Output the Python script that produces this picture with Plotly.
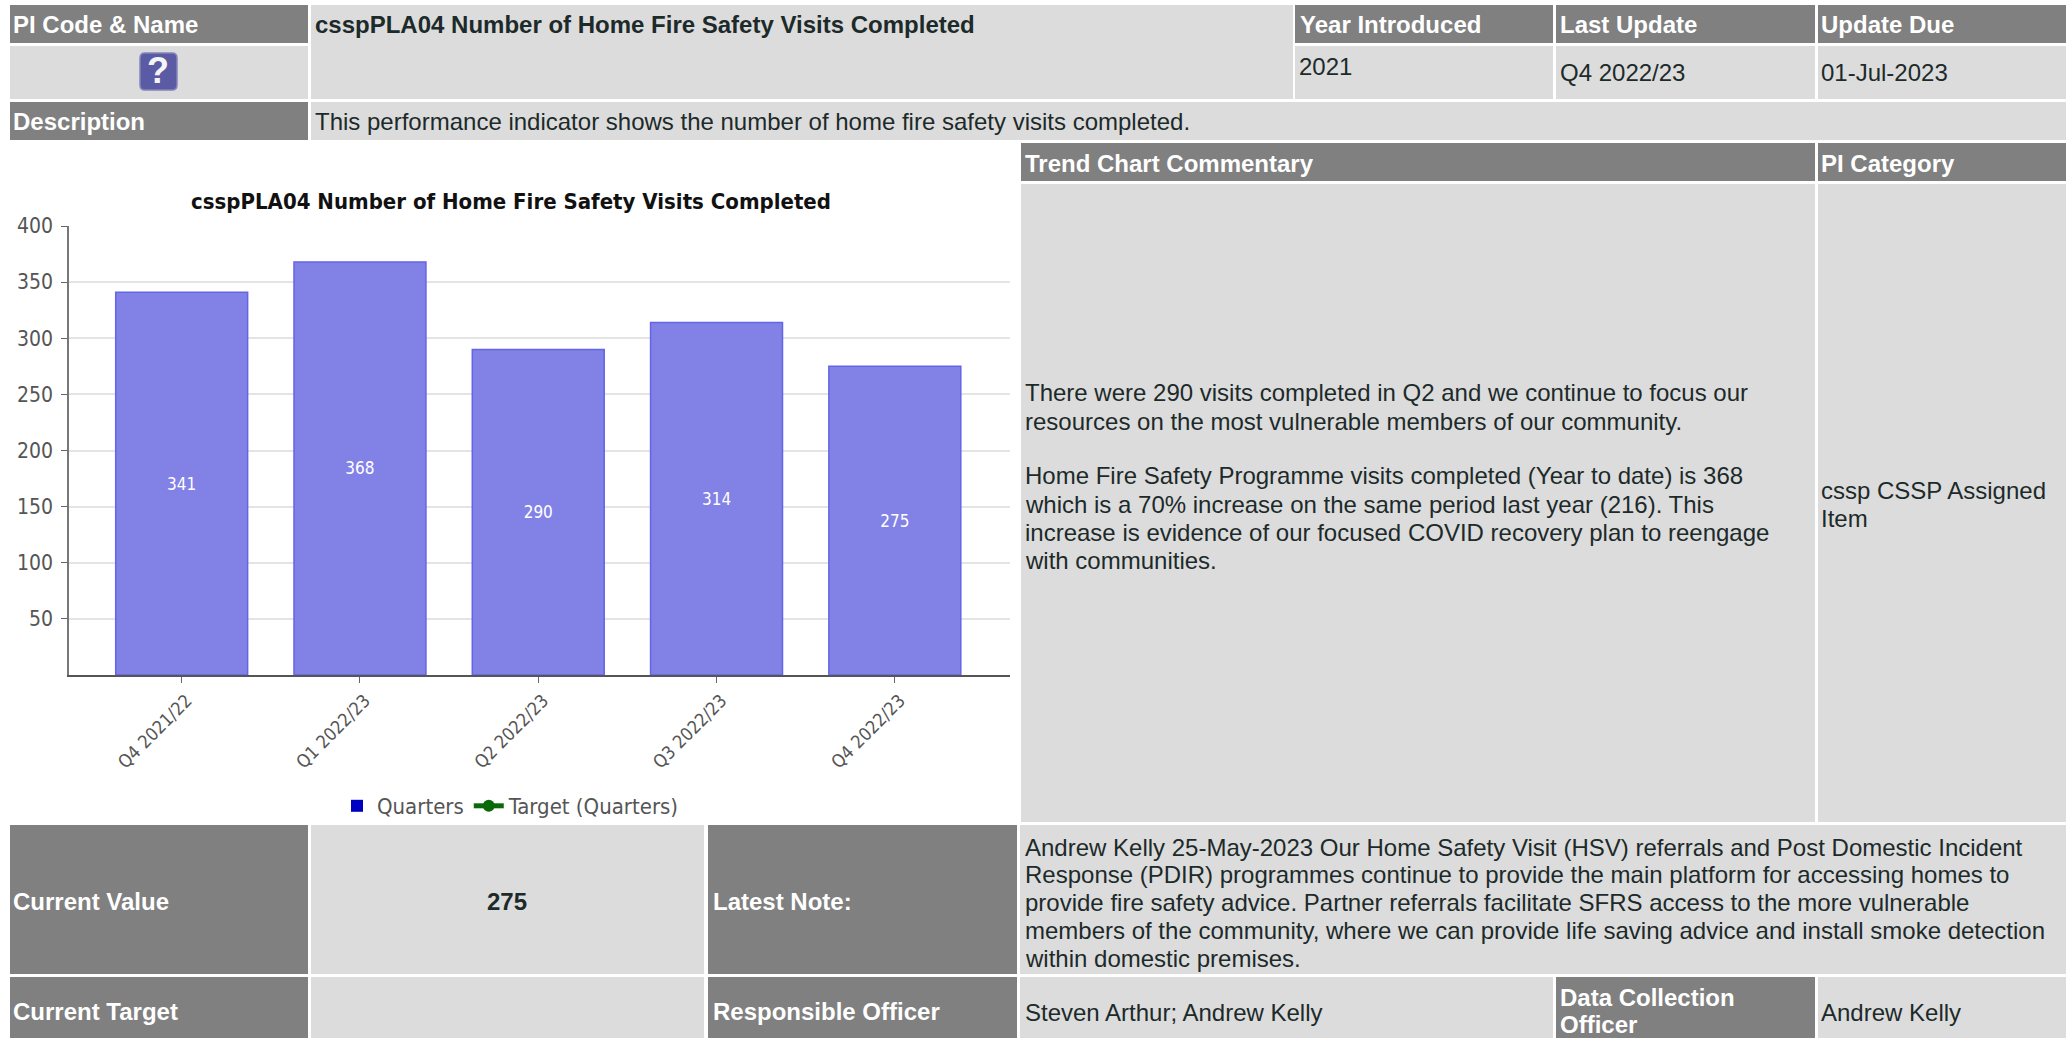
import plotly.graph_objects as go

W, H = 2071, 1038

# ---- chart data ----
periods = ["Q4 2021/22", "Q1 2022/23", "Q2 2022/23", "Q3 2022/23", "Q4 2022/23"]
quarters = [341, 368, 290, 314, 275]
y_ticks = [50, 100, 150, 200, 250, 300, 350, 400]
chart_title = "csspPLA04 Number of Home Fire Safety Visits Completed"

# ---- report texts ----
commentary_lines = [
    "There were 290 visits completed in Q2 and we continue to focus our",
    "resources on the most vulnerable members of our community.",
    "Home Fire Safety Programme visits completed (Year to date) is 368",
    "which is a 70% increase on the same period last year (216). This",
    "increase is evidence of our focused COVID recovery plan to reengage",
    "with communities.",
]
commentary_ys = [392, 421, 475, 504, 532, 560]
note_lines = [
    "Andrew Kelly 25-May-2023 Our Home Safety Visit (HSV) referrals and Post Domestic Incident",
    "Response (PDIR) programmes continue to provide the main platform for accessing homes to",
    "provide fire safety advice. Partner referrals facilitate SFRS access to the more vulnerable",
    "members of the community, where we can provide life saving advice and install smoke detection",
    "within domestic premises.",
]
note_ys = [847, 874, 902, 930, 958]

DARK, LIGHT = "#808080", "#dcdcdc"
# x0, x1, y0, y1, colour
cells = [
    (10, 308, 5, 43, DARK), (10, 308, 46, 99, LIGHT), (311, 1293, 5, 99, LIGHT),
    (1295, 1553, 5, 43, DARK), (1556, 1815, 5, 43, DARK), (1818, 2066, 5, 43, DARK),
    (1295, 1553, 46, 99, LIGHT), (1556, 1815, 46, 99, LIGHT), (1818, 2066, 46, 99, LIGHT),
    (10, 308, 102, 140, DARK), (311, 2066, 102, 140, LIGHT),
    (1021, 1815, 143, 181, DARK), (1818, 2066, 143, 181, DARK),
    (1021, 1815, 184, 822, LIGHT), (1818, 2066, 184, 822, LIGHT),
    (10, 308, 825, 974, DARK), (311, 704, 825, 974, LIGHT), (708, 1017, 825, 974, DARK), (1020, 2066, 825, 974, LIGHT),
    (10, 308, 977, 1038, DARK), (311, 704, 977, 1038, LIGHT), (708, 1017, 977, 1038, DARK),
    (1020, 1553, 977, 1038, LIGHT), (1556, 1815, 977, 1038, DARK), (1818, 2066, 977, 1038, LIGHT),
]
WHITE, INK = "#ffffff", "#1c2a2a"
# text, x, y, colour, bold
labels = [
    ("PI Code & Name", 12, 25, WHITE, True),
    ("csspPLA04 Number of Home Fire Safety Visits Completed", 314, 25, INK, True),
    ("Year Introduced", 1299, 25, WHITE, True),
    ("Last Update", 1559, 25, WHITE, True),
    ("Update Due", 1820, 25, WHITE, True),
    ("2021", 1298, 66, INK, False),
    ("Q4 2022/23", 1559, 73, INK, False),
    ("01-Jul-2023", 1820, 73, INK, False),
    ("Description", 12, 122, WHITE, True),
    ("This performance indicator shows the number of home fire safety visits completed.", 314, 122, INK, False),
    ("Trend Chart Commentary", 1024, 163, WHITE, True),
    ("PI Category", 1820, 163, WHITE, True),
    ("cssp CSSP Assigned", 1820, 490, INK, False),
    ("Item", 1820, 518, INK, False),
    ("Current Value", 12, 901, WHITE, True),
    ("Latest Note:", 712, 901, WHITE, True),
    ("Current Target", 12, 1011, WHITE, True),
    ("Responsible Officer", 712, 1011, WHITE, True),
    ("Steven Arthur; Andrew Kelly", 1024, 1012, INK, False),
    ("Data Collection", 1559, 997, WHITE, True),
    ("Officer", 1559, 1024, WHITE, True),
    ("Andrew Kelly", 1820, 1012, INK, False),
]
labels += [(t, 1024, y, INK, False) for t, y in zip(commentary_lines, commentary_ys)]
labels += [(t, 1024, y, INK, False) for t, y in zip(note_lines, note_ys)]


def fx(p):
    return p / W


def fy(p):
    return 1 - p / H


CHART_FONT = "DejaVu Sans Condensed, DejaVu Sans"
fig = go.Figure()
fig.add_bar(x=periods, y=quarters, name="Quarters", showlegend=False, width=0.74,
            marker=dict(color="#8282e6", line=dict(color="#6464e8", width=1.5)),
            text=quarters, textposition="inside", insidetextanchor="middle", textangle=0,
            textfont=dict(family=CHART_FONT, size=17, color="#ffffff"),
            constraintext="none", cliponaxis=False)
fig.add_scatter(x=periods, y=[None] * 5, name="Quarters", mode="markers",
                marker=dict(color="#0000c0", size=17, symbol="square"))
fig.add_scatter(x=periods, y=[None] * 5, name="Target (Quarters)", mode="lines+markers",
                line=dict(color="#0a6a0a", width=2), marker=dict(color="#0a6a0a", size=11))

shapes = [dict(type="rect", xref="paper", yref="paper", x0=fx(a), x1=fx(b), y0=fy(d), y1=fy(c),
               fillcolor=col, line_width=0, layer="below") for a, b, c, d, col in cells]
# help icon
ix0, ix1, iy0, iy1, r = 140, 177, 53, 90, 5
path = "M{},{} L{},{} Q{},{} {},{} L{},{} Q{},{} {},{} L{},{} Q{},{} {},{} L{},{} Q{},{} {},{} Z".format(
    fx(ix0 + r), fy(iy0), fx(ix1 - r), fy(iy0), fx(ix1), fy(iy0), fx(ix1), fy(iy0 + r),
    fx(ix1), fy(iy1 - r), fx(ix1), fy(iy1), fx(ix1 - r), fy(iy1),
    fx(ix0 + r), fy(iy1), fx(ix0), fy(iy1), fx(ix0), fy(iy1 - r),
    fx(ix0), fy(iy0 + r), fx(ix0), fy(iy0), fx(ix0 + r), fy(iy0))
shapes.append(dict(type="path", xref="paper", yref="paper", path=path, fillcolor="#5a5aa5",
                   line=dict(color="#8484bc", width=1.5), layer="below"))

ann = [dict(text=t, x=fx(x), y=fy(y), xref="paper", yref="paper", xanchor="left", yanchor="middle",
            showarrow=False, borderpad=0,
            font=dict(family="Liberation Sans", size=24, color=c, weight="bold" if b else "normal"))
       for t, x, y, c, b in labels]
ann.append(dict(text="275", x=fx(507), y=fy(901), xref="paper", yref="paper", xanchor="center",
                yanchor="middle", showarrow=False, borderpad=0,
                font=dict(family="Liberation Sans", size=24, color=INK, weight="bold")))
ann.append(dict(text="?", x=fx(158), y=fy(71), xref="paper", yref="paper", xanchor="center",
                yanchor="middle", showarrow=False, borderpad=0,
                font=dict(family="Liberation Sans", size=36, color="#f4f4f4", weight="bold")))

fig.update_layout(
    width=W, height=H, margin=dict(l=0, r=0, t=0, b=0, autoexpand=False),
    paper_bgcolor="#ffffff", plot_bgcolor="#ffffff",
    shapes=shapes, annotations=ann, barmode="overlay",
    title=dict(text="<b>" + chart_title + "</b>", x=fx(511), y=fy(201), xanchor="center", yanchor="middle",
               xref="paper", yref="paper", font=dict(family=CHART_FONT, size=22, color="#111111"),
               automargin=False),
    xaxis=dict(domain=[fx(69), fx(1010)], range=[-0.632, 4.646], type="category", showgrid=False,
               tickangle=-45, ticks="outside", ticklen=6, tickcolor="#666666", showline=True,
               ticklabelshift=5,
               linecolor="#555555", linewidth=2, tickfont=dict(family=CHART_FONT, size=18, color="#555555")),
    yaxis=dict(domain=[fy(675), fy(226)], range=[0, 400], tickvals=y_ticks, showgrid=True,
               gridcolor="#e4e4e4", gridwidth=1.5, zeroline=False, ticks="outside", ticklen=6,
               ticklabelstandoff=4,
               tickcolor="#666666", showline=True, linecolor="#777777", linewidth=1.5,
               tickfont=dict(family=CHART_FONT, size=21, color="#555555")),
    legend=dict(orientation="h", x=fx(511), y=fy(806), xanchor="center", yanchor="middle",
                bgcolor="rgba(0,0,0,0)", font=dict(family=CHART_FONT, size=22, color="#555555"),
                itemsizing="constant", itemwidth=30, traceorder="normal"),
)
fig.write_html("out.html", config={"displayModeBar": False},
               post_script="document.body.style.margin='0';document.body.style.overflow='hidden';")
